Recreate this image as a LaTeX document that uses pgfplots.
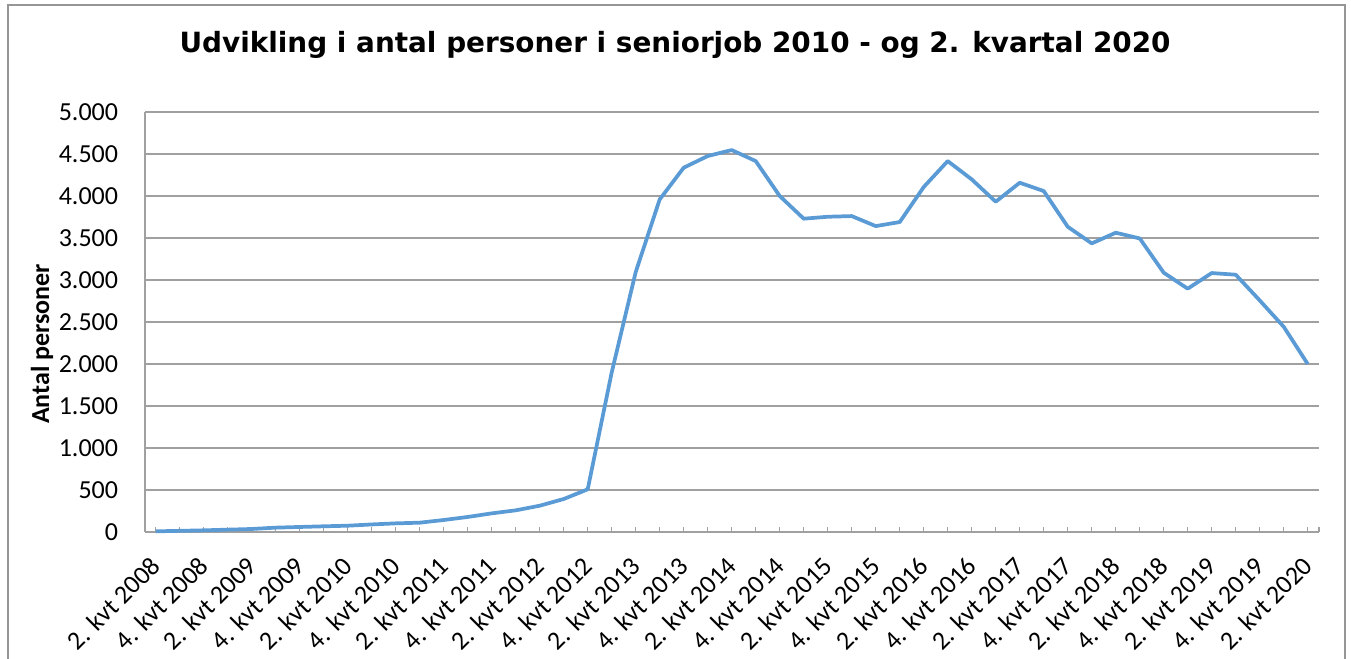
\documentclass[border=0pt]{standalone}
\usepackage{pgfplots}
\pgfplotsset{compat=1.18}
\usepackage{fontspec}
\setmainfont{Carlito}
\newfontfamily\titlefont{DejaVu Sans}
\definecolor{lineblue}{RGB}{91,155,213}
\definecolor{gridgray}{RGB}{160,160,160}
\definecolor{bordergray}{RGB}{150,150,150}
\newcommand{\tickfont}{\fontsize{19.5pt}{22pt}\selectfont}
\begin{document}
\begin{tikzpicture}
\path[use as bounding box] (-108.75pt,-94.5pt) rectangle (904.5pt,399pt);
\draw[bordergray, line width=0.9pt] (-102.75pt,-110pt) rectangle (900pt,395.25pt);
\begin{axis}[
  at={(0,0)}, anchor=south west,
  scale only axis,
  width=880.5pt, height=315pt,
  xmin=-0.446, xmax=48.47,
  ymin=0, ymax=5000,
  axis x line*=bottom, axis y line*=left,
  axis line style={gridgray, line width=0.9pt},
  ytick={0,500,...,5000},
  ymajorgrids,
  major grid style={gridgray, line width=0.9pt},
  ytick style={draw=none},
  xtick={0,2,...,48},
  minor xtick={1,3,...,47,48.47},
  xticklabels={2. kvt 2008,4. kvt 2008,2. kvt 2009,4. kvt 2009,2. kvt 2010,4. kvt 2010,2. kvt 2011,4. kvt 2011,2. kvt 2012,4. kvt 2012,2. kvt 2013,4. kvt 2013,2. kvt 2014,4. kvt 2014,2. kvt 2015,4. kvt 2015,2. kvt 2016,4. kvt 2016,2. kvt 2017,4. kvt 2017,2. kvt 2018,4. kvt 2018,2. kvt 2019,4. kvt 2019,2. kvt 2020},
  tick align=inside,
  major tick length=4pt, minor tick length=4pt,
  xtick style={gridgray, line width=0.9pt},
  minor tick style={gridgray, line width=0.9pt},
  xticklabel style={font=\tickfont, text=black, yshift=-22pt, rotate=45, anchor=east, inner sep=0pt},
  yticklabel style={font=\tickfont, text=black, anchor=east, inner sep=0pt, xshift=-20pt},
  /pgf/number format/assume math mode=true,
  /pgf/number format/.cd, 1000 sep={.},
  /pgfplots/.cd,
  clip=false,
]
\addplot[lineblue, line width=2.8pt, line join=round] table {
x y
0 8
1 14
2 20
3 28
4 36
5 52
6 60
7 68
8 75
9 90
10 103
11 111
12 143
13 179
14 222
15 258
16 313
17 393
18 508
19 1900
20 3095
21 3960
22 4337
23 4476
24 4547
25 4416
26 4000
27 3730
28 3753
29 3761
30 3642
31 3690
32 4107
33 4416
34 4198
35 3932
36 4158
37 4059
38 3634
39 3436
40 3563
41 3495
42 3087
43 2897
44 3083
45 3063
46 2757
47 2443
48 2000
};
\end{axis}
\node[font=\titlefont\bfseries\fontsize{20.9pt}{25pt}\selectfont] at (397.5pt,365pt) {Udvikling i antal personer i seniorjob 2010 - og 2. kvartal 2020};
\node[rotate=90, font=\bfseries\fontsize{19.5pt}{22pt}\selectfont] at (-77.25pt,141pt) {Antal personer};
\end{tikzpicture}
\end{document}
